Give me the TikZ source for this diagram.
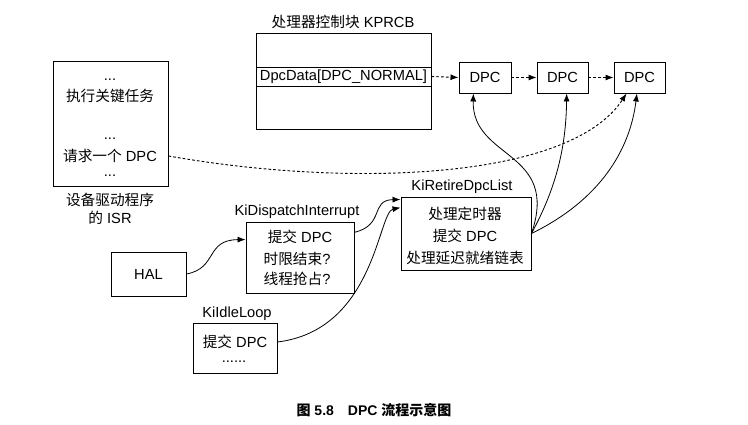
\documentclass[tikz,border=0pt]{standalone}
\usepackage{fontspec}
\setmainfont{Liberation Sans}
\newfontfamily\zhfont{Noto Sans CJK SC}
\usetikzlibrary{calc,arrows.meta}
\newcommand{\zh}[1]{{\zhfont #1}}
\tikzset{
	txt/.style={inner sep=0pt, font=\fontsize{11}{13}\selectfont},
	box/.style={draw, line width=0.7pt, inner sep=0pt},
	lnk/.style={line width=0.6pt, -{Latex[length=6pt, width=4.5pt]}},
	dotlnk/.style={line width=0.7pt, -{Latex[length=6pt, width=4.5pt]}, dash pattern=on 2pt off 1.6pt},
}

\begin{document}
\begin{tikzpicture}[x=0.75pt, y=-0.75pt]
		%%%%% START %%%%%
		\useasboundingbox (0, 0) rectangle (748, 424);
		
		% ISR of the device driver
		\node[box, minimum width=86.25pt, minimum height=93.75pt] (isr) at (110.5, 123.5) {};
		\node[txt] (isrA) at (110, 80) {...};
		\node[txt] (isrB) at (110, 96) {\zh{执行关键任务}};
		\node[txt] (isrC) at (110, 139) {...};
		\node[txt] (isrD) at (110, 156) {\zh{请求一个} DPC};
		\node[txt] (isrE) at (110, 176) {...};
		\node[txt] (isrT1) at (110, 200) {\zh{设备驱动程序}};
		\node[txt] (isrT2) at (110, 218) {\zh{的} ISR};
		
		% KPRCB
		\node[txt] (kprcbT) at (343, 22) {\zh{处理器控制块} KPRCB};
		\node[box, minimum width=131.25pt, minimum height=72pt] (kprcb) at (343.5, 81) {};
		\node[box, minimum width=131.25pt, minimum height=14.25pt] (dpcrow) at (343.5, 76.5) {};
		\node[txt] (dpcrowT) at (343.5, 76.5) {DpcData[DPC\_NORMAL]};
		
		% DPC queue
		\node[box, txt, draw, line width=0.7pt, minimum width=39pt, minimum height=23.25pt] (dpc1) at (485, 77.5) {DPC};
		\node[box, txt, draw, line width=0.7pt, minimum width=38.25pt, minimum height=23.25pt] (dpc2) at (562.5, 77.5) {DPC};
		\node[box, txt, draw, line width=0.7pt, minimum width=38.25pt, minimum height=23.25pt] (dpc3) at (639.5, 77.5) {DPC};
		
		\draw[dotlnk] (dpcrow.east) -- (dpc1.west);
		\draw[dotlnk] (dpc1.east) -- (dpc2.west);
		\draw[dotlnk] (dpc2.east) -- (dpc3.west);
		
		% HAL
		\node[box, txt, draw, line width=0.7pt, minimum width=56.25pt, minimum height=33pt] (hal) at (148.5, 274) {HAL};
		
		% KiDispatchInterrupt
		\node[txt] (kdiT) at (297, 212) {KiDispatchInterrupt};
		\node[box, minimum width=81pt, minimum height=53.25pt] (kdi) at (300, 257.5) {};
		\node[txt] (kdiA) at (300, 237) {\zh{提交} DPC};
		\node[txt] (kdiB) at (297, 259) {\zh{时限结束}?};
		\node[txt] (kdiC) at (297, 279) {\zh{线程抢占}?};
		
		% KiIdleLoop
		\node[txt] (idleT) at (237, 314) {KiIdleLoop};
		\node[box, minimum width=63pt, minimum height=37.5pt] (idle) at (235, 348) {};
		\node[txt] (idleA) at (235, 342) {\zh{提交} DPC};
		\node[txt] (idleB) at (234, 362) {......};
		
		% KiRetireDpcList
		\node[txt] (retT) at (462, 187) {KiRetireDpcList};
		\node[box, minimum width=97.5pt, minimum height=54.75pt] (ret) at (466, 233.5) {};
		\node[txt] (retA) at (465, 214) {\zh{处理定时器}};
		\node[txt] (retB) at (465, 236) {\zh{提交} DPC};
		\node[txt] (retC) at (465, 258) {\zh{处理延迟就绪链表}};
		
		% connectors
		\draw[dotlnk] (isr.east |- isrD) .. controls (350, 188) and (570, 180) .. ($(dpc3.south west)!0.25!(dpc3.south east)$);
		
		\draw[lnk] (ret.east) .. controls (560, 150) and (472, 160) .. ($(dpc1.south west)!0.28!(dpc1.south east)$);
		\draw[lnk] (ret.east) .. controls (555, 190) and (566, 150) .. ($(dpc2.south west)!0.58!(dpc2.south east)$);
		\draw[lnk] (ret.east) .. controls (600, 200) and (630, 150) .. ($(dpc3.south west)!0.45!(dpc3.south east)$);
		
		\draw[lnk] (hal.east) .. controls (218, 268) and (205, 240) .. ($(kdi.north west)!0.25!(kdi.south west)$);
		\draw[lnk] ($(kdi.north east)!0.15!(kdi.south east)$) .. controls (385, 225) and (370, 200) .. ($(ret.north west)!0.04!(ret.south west)$);
		\draw[lnk] (idle.east |- idleA) .. controls (375, 330) and (378, 212) .. ($(ret.north west)!0.15!(ret.south west)$);
		
		% caption
		\node[inner sep=0pt, font=\fontsize{10.5}{12}\selectfont\bfseries] (cap) at (374, 410) {\zh{\bfseries 图} 5.8\quad DPC \zh{\bfseries 流程示意图}};
		
		%%%%% END %%%%%
	\end{tikzpicture}
\end{document}
